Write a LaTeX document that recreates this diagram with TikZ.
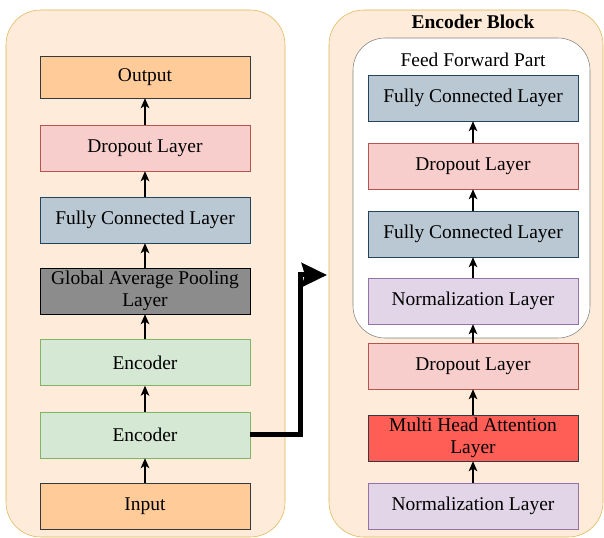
\documentclass[tikz,border=0pt]{standalone}
\usepackage{fontspec}
\setmainfont{Liberation Serif}
\usetikzlibrary{arrows.meta}

\definecolor{panelfill}{HTML}{FFEBD9}
\definecolor{paneldraw}{HTML}{DEB551}
\definecolor{iofill}{HTML}{FFCC99}
\definecolor{iodraw}{HTML}{36393D}
\definecolor{dropfill}{HTML}{F8CECC}
\definecolor{dropdraw}{HTML}{B85450}
\definecolor{fcfill}{HTML}{BAC8D3}
\definecolor{fcdraw}{HTML}{23445D}
\definecolor{encfill}{HTML}{D5E8D4}
\definecolor{encdraw}{HTML}{82B366}
\definecolor{normfill}{HTML}{E1D5E7}
\definecolor{normdraw}{HTML}{9673A6}
\definecolor{gapfill}{HTML}{8C8C8C}
\definecolor{mhafill}{HTML}{FF5E57}

\tikzset{
  layer/.style={draw,minimum width=157.5pt,minimum height=34.5pt,inner sep=1pt,
    align=center,font=\fontsize{14.6}{16.5}\selectfont},
  io/.style={layer,fill=iofill,draw=iodraw},
  drop/.style={layer,fill=dropfill,draw=dropdraw},
  fc/.style={layer,fill=fcfill,draw=fcdraw},
  enc/.style={layer,fill=encfill,draw=encdraw},
  norm/.style={layer,fill=normfill,draw=normdraw},
  flow/.style={-{Stealth[length=7.5pt,width=6.5pt,inset=2pt]},thick},
}

\begin{document}
\begin{tikzpicture}[x=0.75pt,y=-0.75pt]
  \useasboundingbox (0,0) rectangle (604,538);
  % panels
  \draw [fill=panelfill,draw=paneldraw,rounded corners=26pt] (6,10) rectangle (285,537);
  \draw [fill=panelfill,draw=paneldraw,rounded corners=26pt] (329,10) rectangle (603,537);
  \draw [fill=white,draw=gray,rounded corners=24pt] (353,38) rectangle (590,338);
  \node [font=\bfseries\fontsize{14.6}{16.5}\selectfont] (title) at (473,22) {Encoder Block};
  \node [font=\fontsize{14.6}{16.5}\selectfont] (ffp) at (473,60) {Feed Forward Part};

  % model stack
  \node [io,minimum height=31.5pt] (output) at (145,77) {Output};
  \node [drop] (drop) at (145,148) {Dropout Layer};
  \node [fc] (fc) at (145,220) {Fully Connected Layer};
  \node [layer,fill=gapfill,draw=black] (gap) at (145,291) {Global Average Pooling\\Layer};
  \node [enc] (encb) at (145,362.5) {Encoder};
  \node [enc] (enca) at (145,435) {Encoder};
  \node [io] (input) at (145,506) {Input};

  \draw [flow] (input) -- (enca);
  \draw [flow] (enca) -- (encb);
  \draw [flow] (encb) -- (gap);
  \draw [flow] (gap) -- (fc);
  \draw [flow] (fc) -- (drop);
  \draw [flow] (drop) -- (output);

  % encoder block
  \node [fc] (fcd) at (473,98) {Fully Connected Layer};
  \node [drop] (dropc) at (473,166) {Dropout Layer};
  \node [fc] (fcc) at (473,234) {Fully Connected Layer};
  \node [norm] (normb) at (473,301) {Normalization Layer};
  \node [drop] (dropb) at (473,366) {Dropout Layer};
  \node [layer,fill=mhafill,draw=iodraw] (mha) at (473,438) {Multi Head Attention\\Layer};
  \node [norm] (norma) at (473,506) {Normalization Layer};

  \draw [flow] (norma) -- (mha);
  \draw [flow] (mha) -- (dropb);
  \draw [flow] (dropb) -- (normb);
  \draw [flow] (normb) -- (fcc);
  \draw [flow] (fcc) -- (dropc);
  \draw [flow] (dropc) -- (fcd);

  % zoom connector
  \coordinate (blockin) at (327,275);
  \draw [line width=3.75pt,-{Stealth[length=19pt,width=18pt,inset=2.5pt]}]
    (enca.east) -| (300,275) -- (blockin);
\end{tikzpicture}
\end{document}
